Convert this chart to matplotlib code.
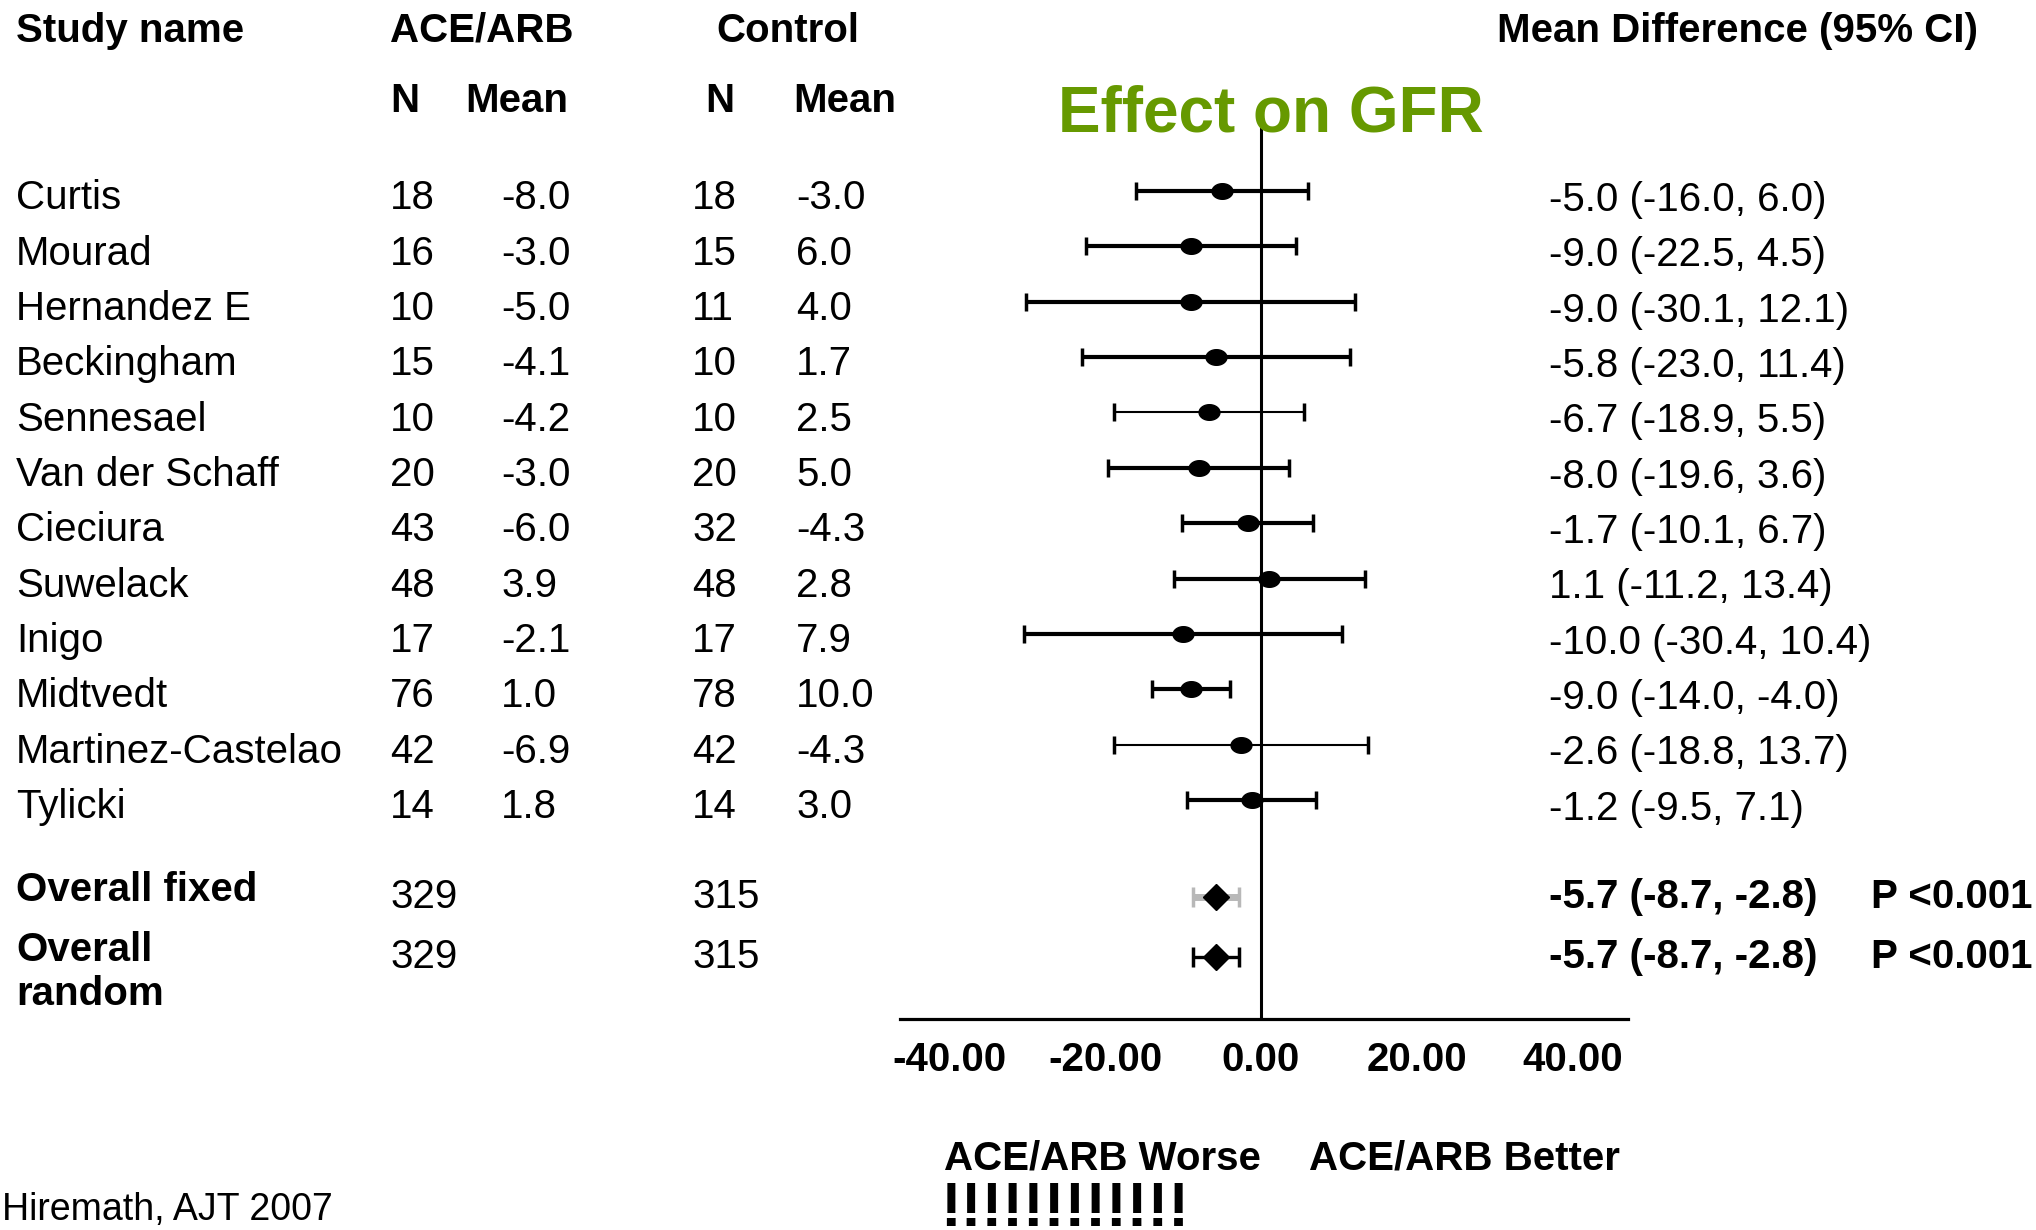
import numpy as np
import matplotlib.pyplot as plt
from matplotlib.path import Path
from matplotlib.transforms import blended_transform_factory

plt.rcParams['font.family'] = ['Liberation Sans', 'DejaVu Sans']

# study rows
studies = ['Curtis', 'Mourad', 'Hernandez E', 'Beckingham', 'Sennesael', 'Van der Schaff',
           'Cieciura', 'Suwelack', 'Inigo', 'Midtvedt', 'Martinez-Castelao', 'Tylicki']
ace_n = [18, 16, 10, 15, 10, 20, 43, 48, 17, 76, 42, 14]
ace_mean = ['-8.0', '-3.0', '-5.0', '-4.1', '-4.2', '-3.0', '-6.0', '3.9', '-2.1', '1.0', '-6.9', '1.8']
ctl_n = [18, 15, 11, 10, 10, 20, 32, 48, 17, 78, 42, 14]
ctl_mean = ['-3.0', '6.0', '4.0', '1.7', '2.5', '5.0', '-4.3', '2.8', '7.9', '10.0', '-4.3', '3.0']
md = [-5.0, -9.0, -9.0, -5.8, -6.7, -8.0, -1.7, 1.1, -10.0, -9.0, -2.6, -1.2]
lo = [-16.0, -22.5, -30.1, -23.0, -18.9, -19.6, -10.1, -11.2, -30.4, -14.0, -18.8, -9.5]
hi = [6.0, 4.5, 12.1, 11.4, 5.5, 3.6, 6.7, 13.4, 10.4, -4.0, 13.7, 7.1]

# pooled rows
overall = ['Overall fixed', 'Overall\nrandom']
ov_ace_n = [329, 329]
ov_ctl_n = [315, 315]
ov_md = [-5.7, -5.7]
ov_lo = [-8.7, -8.7]
ov_hi = [-2.8, -2.8]
ov_p = ['P <0.001', 'P <0.001']

ticks = [-40, -20, 0, 20, 40]

thin_rows = ['Sennesael', 'Martinez-Castelao']
grey_cap_rows = ['Sennesael', 'Tylicki']

W, H = 2036, 1230
fig = plt.figure(figsize=(W / 100, H / 100), dpi=100)
ax = fig.add_axes([900 / W, (H - 1019) / H, 728 / W, (1019 - 123) / H])

row_y = np.arange(len(studies))
ov_y = [12.75, 13.84]

t = np.linspace(0, 2 * np.pi, 60)
dot = Path(np.column_stack([np.cos(t), 0.75 * np.sin(t)]))

for i, name in enumerate(studies):
    thin = name in thin_rows
    eb = ax.errorbar(md[i], row_y[i], xerr=[[md[i] - lo[i]], [hi[i] - md[i]]], fmt='none',
                     ecolor='black', elinewidth=1.5 if thin else 3.0, capsize=6.5, capthick=2.5)
    if name in grey_cap_rows:
        eb[1][0].set_color('#b0b0b0')
    ax.plot(md[i], row_y[i], marker=dot, ms=15, color='black', ls='none', zorder=3)

for j in range(2):
    fixed = j == 0
    eb = ax.errorbar(ov_md[j], ov_y[j], xerr=[[ov_md[j] - ov_lo[j]], [ov_hi[j] - ov_md[j]]], fmt='none',
                     ecolor='#b8b8b8' if fixed else 'black', elinewidth=5 if fixed else 2.4,
                     capsize=7, capthick=2.5)
    eb[1][0].set_color('#8c8c8c' if fixed else 'black')
    eb[1][1].set_color('black')
    ax.plot(ov_md[j], ov_y[j], marker='D', ms=13, color='black', ls='none', zorder=3)

ax.axvline(0, color='black', lw=2.2, zorder=1)
ax.set_xlim(-46.3, 47.1)
ax.set_ylim(14.957, -1.228)
for s in ['top', 'left', 'right']:
    ax.spines[s].set_visible(False)
ax.spines['bottom'].set_linewidth(2.3)
ax.set_yticks([])
ax.set_xticks(ticks)
ax.set_xticklabels(['%.2f' % v for v in ticks], fontsize=29, fontweight='bold')
ax.tick_params(axis='x', length=0, pad=16)
ax.patch.set_alpha(0)

tr = blended_transform_factory(fig.transFigure, ax.transData)


def rowtext(x, y, s, **kw):
    fig.text(x / W, y, s, transform=tr, va='center', fontsize=29, **kw)


def figtext(x, y, s, **kw):
    kw.setdefault('va', 'center')
    fig.text(x / W, 1 - y / H, s, **kw)


off = 0.13
for i, name in enumerate(studies):
    y = row_y[i] + off
    rowtext(16, y, name)
    rowtext(390, y, str(ace_n[i]))
    rowtext(501, y, ace_mean[i])
    rowtext(692, y, str(ctl_n[i]))
    rowtext(796, y, ctl_mean[i])
    rowtext(1549, y + 0.03, '%.1f (%.1f, %.1f)' % (md[i], lo[i], hi[i]))

for j in range(2):
    lines = overall[j].split('\n')
    for k, ln in enumerate(lines):
        rowtext(16, ov_y[j] - 0.13 + k * 0.8, ln, fontweight='bold')
    rowtext(390, ov_y[j], str(ov_ace_n[j]))
    rowtext(692, ov_y[j], str(ov_ctl_n[j]))
    rowtext(1549, ov_y[j], '%.1f (%.1f, %.1f)' % (ov_md[j], ov_lo[j], ov_hi[j]), fontweight='bold')
    rowtext(1871, ov_y[j], ov_p[j], fontweight='bold')

# headers
hd = dict(fontsize=29, fontweight='bold')
figtext(16, 31, 'Study name', **hd)
figtext(390, 31, 'ACE/ARB', **hd)
figtext(716, 31, 'Control', **hd)
figtext(1497, 31, 'Mean Difference (95% CI)', **hd)
figtext(390, 101, 'N', **hd)
figtext(465, 101, 'Mean', **hd)
figtext(705, 101, 'N', **hd)
figtext(793, 101, 'Mean', **hd)

figtext(1058, 114, 'Effect on GFR', fontsize=46, fontweight='bold', color='#669900')

figtext(944, 1158, 'ACE/ARB Worse', **hd)
figtext(1309, 1158, 'ACE/ARB Better', **hd)
figtext(940, 1226, '!' * 12, fontsize=45, fontweight='bold', va='baseline')
figtext(2, 1210, 'Hiremath, AJT 2007', fontsize=27)

fig.savefig('out.png', dpi=100)
